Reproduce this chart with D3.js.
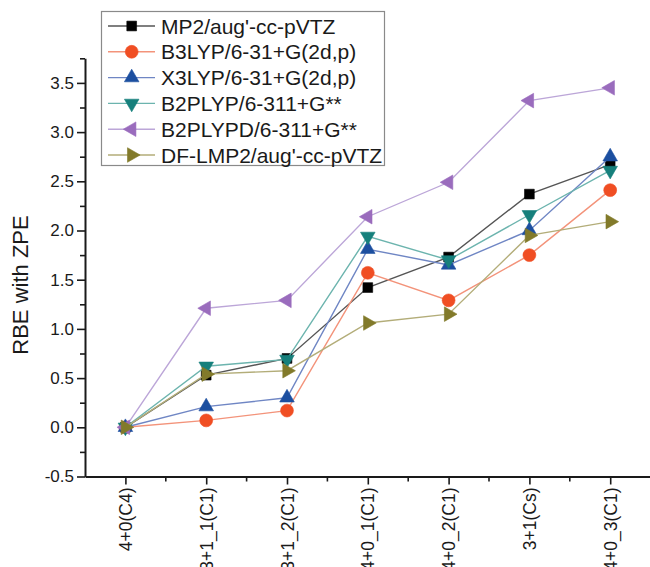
<!DOCTYPE html>
<html>
<head>
<meta charset="utf-8">
<script src="https://cdn.jsdelivr.net/npm/d3@7"></script>
<style>
  body { margin: 0; background: #fff; }
  svg { display: block; font-family: "Liberation Sans", Arial, sans-serif; }
  .axis path, .axis line { stroke: #1a1a1a; }
  .axis text { fill: #1a1a1a; }
</style>
</head>
<body>
<svg width="650" height="567"></svg>
<script>
// data
const categories = ["4+0(C4)", "3+1_1(C1)", "3+1_2(C1)", "4+0_1(C1)", "4+0_2(C1)", "3+1(Cs)", "4+0_3(C1)"];
const mp2     = [0, 0.53, 0.70, 1.42, 1.73, 2.37, 2.67];
const b3lyp   = [0, 0.07, 0.17, 1.57, 1.29, 1.75, 2.41];
const x3lyp   = [0, 0.21, 0.30, 1.81, 1.65, 2.00, 2.75];
const b2plyp  = [0, 0.62, 0.69, 1.94, 1.70, 2.16, 2.61];
const b2plypd = [0, 1.21, 1.29, 2.14, 2.49, 3.32, 3.45];
const dflmp2  = [0, 0.54, 0.575, 1.06, 1.15, 1.95, 2.09];

const seriesNames = ["MP2/aug'-cc-pVTZ", "B3LYP/6-31+G(2d,p)", "X3LYP/6-31+G(2d,p)",
  "B2PLYP/6-311+G**", "B2PLYPD/6-311+G**", "DF-LMP2/aug'-cc-pVTZ"];
const seriesValues = [mp2, b3lyp, x3lyp, b2plyp, b2plypd, dflmp2];
const colors = ["#000000", "#f04e23", "#1c4fa0", "#16807c", "#9a6cbd", "#827a2a"];
const lineColors = ["#555555", "#f3937a", "#6f86c4", "#6cb4ae", "#bca6d8", "#b3ad79"];
const shapes = ["square", "circle", "up", "down", "left", "right"];

const yMajor = [-0.5, 0, 0.5, 1, 1.5, 2, 2.5, 3, 3.5];
const yMinor = [-0.25, 0.25, 0.75, 1.25, 1.75, 2.25, 2.75, 3.25, 3.75];

const svg = d3.select("svg");
const plotLeft = 85, plotBottom = 476.5, plotTop = 58.3;

const x = d3.scalePoint()
  .domain(categories)
  .range([plotLeft, plotLeft + 80.8 * 7])
  .padding(0.5);

const y = d3.scaleLinear()
  .domain([-0.5, 3.75])
  .range([plotBottom, plotTop]);

// marker drawing
function marker(g, shape, color, cx, cy) {
  let sym, size, rot = 0;
  if (shape === "square") { sym = d3.symbolSquare; size = 95; }
  else if (shape === "circle") { sym = d3.symbolCircle; size = 130; }
  else {
    sym = d3.symbolTriangle; size = 92;
    rot = { up: 0, down: 180, left: -90, right: 90 }[shape];
  }
  g.append("path")
    .attr("d", d3.symbol().type(sym).size(size)())
    .attr("transform", "translate(" + cx + "," + cy + ") rotate(" + rot + ")")
    .attr("fill", color)
    .attr("stroke", color)
    .attr("stroke-width", 0.6);
}

// axes
const yAxisMinor = svg.append("g")
  .attr("class", "axis")
  .attr("transform", "translate(" + plotLeft + ",0)")
  .call(d3.axisLeft(y).tickValues(yMinor).tickSize(5).tickSizeOuter(0).tickFormat(""));
yAxisMinor.select(".domain").remove();
yAxisMinor.selectAll("line").attr("stroke-width", 1.6);

const yAxis = svg.append("g")
  .attr("class", "axis")
  .attr("transform", "translate(" + plotLeft + ",0)")
  .call(d3.axisLeft(y).tickValues(yMajor).tickSize(8).tickSizeOuter(0).tickFormat(d => d.toFixed(1)));
yAxis.select(".domain").attr("stroke-width", 2);
yAxis.selectAll("line").attr("stroke-width", 1.6);
yAxis.selectAll("text").attr("font-size", 17).attr("x", -11);

const xMinor = categories.slice(0, -1).map(c => x(c) + x.step() / 2);
const xAxisMinor = svg.append("g")
  .attr("class", "axis")
  .attr("transform", "translate(0," + plotBottom + ")");
xAxisMinor.selectAll("line")
  .data(xMinor)
  .enter().append("line")
  .attr("x1", d => d).attr("x2", d => d)
  .attr("y1", 0).attr("y2", 5)
  .attr("stroke-width", 1.6);

const xAxis = svg.append("g")
  .attr("class", "axis")
  .attr("transform", "translate(0," + plotBottom + ")")
  .call(d3.axisBottom(x).tickSize(8).tickSizeOuter(0));
xAxis.select(".domain").attr("stroke-width", 2);
xAxis.selectAll("line").attr("stroke-width", 1.6);
xAxis.selectAll("text")
  .attr("font-size", 17.5)
  .attr("transform", "rotate(-90)")
  .attr("text-anchor", "end")
  .attr("x", -11)
  .attr("y", 0)
  .attr("dy", "0.35em");

// y title
svg.append("text")
  .attr("transform", "translate(28,285) rotate(-90)")
  .attr("text-anchor", "middle")
  .attr("font-size", 22)
  .attr("fill", "#1a1a1a")
  .text("RBE with ZPE");

// series
const line = d3.line()
  .x((d, i) => x(categories[i]))
  .y(d => y(d));

seriesValues.forEach(function(vals, s) {
  const g = svg.append("g");
  g.append("path")
    .attr("d", line(vals))
    .attr("fill", "none")
    .attr("stroke", lineColors[s])
    .attr("stroke-width", 1.4);
  vals.forEach(function(v, i) {
    marker(g, shapes[s], colors[s], x(categories[i]), y(v));
  });
});

// legend
const legend = svg.append("g");
legend.append("rect")
  .attr("x", 101.5).attr("y", 11.5)
  .attr("width", 283).attr("height", 154)
  .attr("fill", "#fff")
  .attr("stroke", "#8a8a8a")
  .attr("stroke-width", 1.2);

seriesNames.forEach(function(name, s) {
  const cy = 26 + s * 25.8;
  legend.append("line")
    .attr("x1", 108).attr("x2", 155)
    .attr("y1", cy).attr("y2", cy)
    .attr("stroke", lineColors[s])
    .attr("stroke-width", 1.4);
  marker(legend, shapes[s], colors[s], 131.7, cy);
  legend.append("text")
    .attr("x", 161)
    .attr("y", cy)
    .attr("dy", "0.36em")
    .attr("font-size", 21)
    .attr("fill", "#1a1a1a")
    .text(name);
});
</script>
</body>
</html>
